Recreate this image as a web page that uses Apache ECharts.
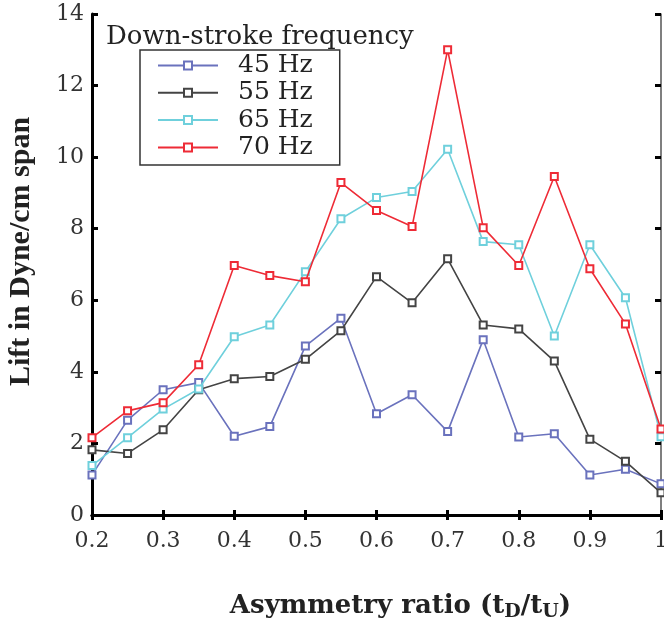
<!DOCTYPE html>
<html>
<head>
<meta charset="utf-8">
<script src="https://cdn.jsdelivr.net/npm/echarts@6/dist/echarts.min.js"></script>
<style>html,body{margin:0;padding:0;background:#fff}#c{width:664px;height:624px}</style>
</head>
<body>
<div id="c"></div>
<script>
var ratios = [0.2,0.25,0.3,0.35,0.4,0.45,0.5,0.55,0.6,0.65,0.7,0.75,0.8,0.85,0.9,0.95,1.0];
var hz45 = [1.12,2.65,3.5,3.7,2.2,2.47,4.72,5.5,2.83,3.36,2.33,4.9,2.18,2.27,1.12,1.28,0.87];
var hz55 = [1.82,1.72,2.38,3.5,3.81,3.87,4.35,5.15,6.66,5.93,7.16,5.31,5.2,4.3,2.12,1.5,0.62];
var hz65 = [1.38,2.16,2.96,3.52,4.98,5.31,6.8,8.28,8.87,9.04,10.22,7.64,7.55,5.0,7.55,6.07,2.19];
var hz70 = [2.16,2.91,3.14,4.2,6.97,6.69,6.52,9.29,8.51,8.06,13.0,8.03,6.97,9.46,6.88,5.34,2.4];
var seriesNames = ['45 Hz','55 Hz','65 Hz','70 Hz'];
var seriesColors = ['#6a72bd','#444444','#6fd0dc','#ee2b36'];
var allValues = [hz45,hz55,hz65,hz70];

function pairs(v){ return ratios.map(function(x,i){ return [x, v[i]]; }); }

var serif = '"DejaVu Serif","Liberation Serif",serif';
var tserif = '"Liberation Serif","DejaVu Serif",serif';
var chart = echarts.init(document.getElementById('c'), null, {renderer:'canvas'});
var series = allValues.map(function(v,i){
  return {
    name: seriesNames[i], type:'line', data: pairs(v),
    symbol:'emptyRect', symbolSize:7, showSymbol:true,
    lineStyle:{color:seriesColors[i], width:1.6},
    itemStyle:{color:seriesColors[i], borderColor:seriesColors[i], borderWidth:1.5},
    emphasis:{disabled:true}, animation:false, z: 3+i
  };
});
chart.setOption({
  animation:false,
  title:{text:'Down-stroke frequency', left:106, top:24, padding:0,
    textStyle:{fontFamily:serif, fontSize:26, fontWeight:'normal', color:'#222'}},
  legend:{
    orient:'vertical', left:140, top:50,
    padding:[3,27,5,17], itemGap:2.3, itemWidth:60, itemHeight:10,
    borderColor:'#333', borderWidth:1.5,
    data:seriesNames,
    textStyle:{fontFamily:serif, fontSize:25, lineHeight:25, color:'#222', padding:[0,0,0,15]}
  },
  grid:{left:92, right:3, top:14, bottom:109, containLabel:false, outerBoundsMode:'none'},
  xAxis:[{
    type:'value', min:0.2, max:1.0, interval:0.1,
    name:'Asymmetry ratio (t{sub|D}/t{sub|U})',
    axisLine:{lineStyle:{color:'#000', width:3}},
    axisTick:{inside:true, length:5, lineStyle:{color:'#000', width:3}},
    splitLine:{show:false},
    axisLabel:{margin:15, fontFamily:serif, fontSize:22, color:'#333',
      formatter:function(v){ return (Math.round(v*10)/10).toString(); }},
    nameLocation:'middle', nameGap:76,
    nameTextStyle:{fontFamily:serif, fontSize:26, fontWeight:'bold', color:'#222', padding:[0,0,0,48],
      rich:{sub:{fontFamily:serif, fontSize:19, fontWeight:'bold', color:'#222', verticalAlign:'bottom', padding:[12,0,0,0]}}}
  },{
    type:'value', position:'top', min:0.2, max:1.0, interval:0.1,
    axisLine:{lineStyle:{color:'#000', width:3}},
    axisTick:{inside:true, length:5, lineStyle:{color:'#000', width:3}},
    axisLabel:{show:false}, splitLine:{show:false}
  }],
  yAxis:[{
    type:'value', min:0, max:14, interval:2,
    name:'Lift in Dyne/cm span', nameLocation:'middle', nameGap:56,
    nameTextStyle:{fontFamily:tserif, fontSize:30, fontWeight:'bold', color:'#222', padding:[0,0,0,26]},
    axisLine:{show:true, lineStyle:{color:'#000', width:3}},
    axisTick:{show:true, inside:true, length:6, lineStyle:{color:'#000', width:3}},
    splitLine:{show:false},
    axisLabel:{margin:8, fontFamily:serif, fontSize:22, color:'#333'}
  },{
    type:'value', position:'right', min:0, max:14, interval:2,
    axisLine:{show:true, lineStyle:{color:'#555', width:1.5}},
    axisTick:{show:true, inside:true, length:6, lineStyle:{color:'#000', width:3}},
    axisLabel:{show:false}, splitLine:{show:false}
  }],
  series: series
});
</script>
</body>
</html>
